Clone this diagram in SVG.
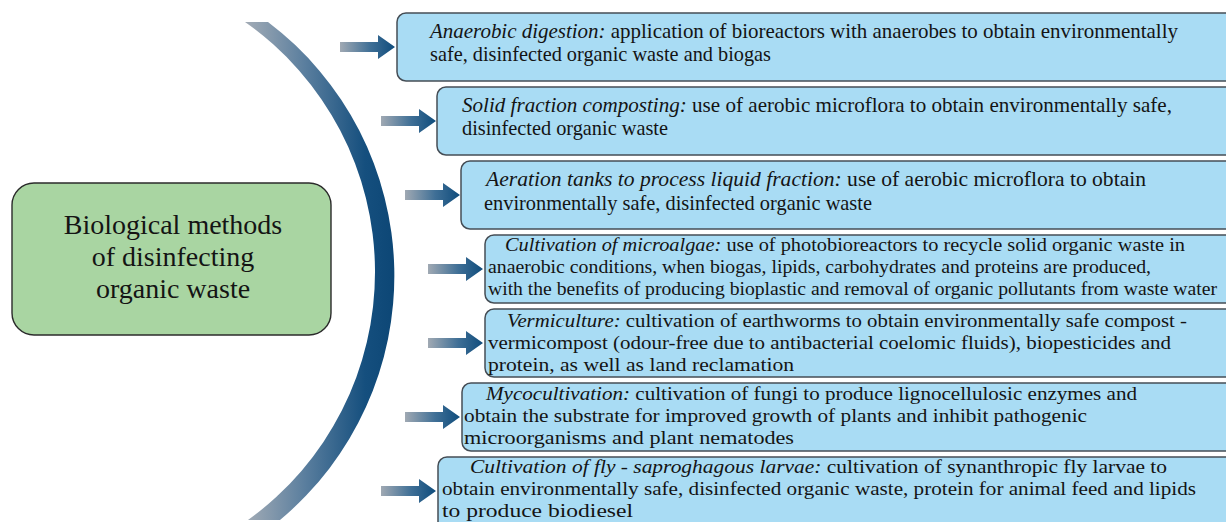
<svg xmlns="http://www.w3.org/2000/svg" width="1226" height="522" viewBox="0 0 1226 522">
<defs>
  <linearGradient id="arcGrad" gradientUnits="userSpaceOnUse" x1="245" y1="0" x2="395" y2="0">
    <stop offset="0" stop-color="#a3acb6"/>
    <stop offset="0.4" stop-color="#5a7e9e"/>
    <stop offset="0.8" stop-color="#154f7e"/>
    <stop offset="1" stop-color="#0c4675"/>
  </linearGradient>
  <linearGradient id="arrGrad" x1="0" y1="0" x2="1" y2="0">
    <stop offset="0" stop-color="#a0a9b3"/>
    <stop offset="0.55" stop-color="#3f6f96"/>
    <stop offset="1" stop-color="#0f4c7c"/>
  </linearGradient>
  <path id="arrow" d="M0,-5 H38 V-12 L55,0 L38,12 V5 H0 Z" fill="url(#arrGrad)"/>
</defs>
<style>
  .box { fill: #a9dcf4; stroke: #454d55; stroke-width: 1.5; }
  .main { fill: #a9d5a2; stroke: #2b2b2b; stroke-width: 1.4; }
  .t { font-family: "Liberation Serif", "Times New Roman", serif; font-size: 21px; fill: #141414; }
  .s { font-size: 19px; }
  .m { font-size: 19.8px; }
  .i { font-style: italic; }
  .mt { font-family: "Liberation Serif", "Times New Roman", serif; font-size: 28px; fill: #141414; text-anchor: middle; }
</style>

<g id="arc">
  <path d="M245,22 L268,22 A318,318 0 0 1 280,520 L248,520 A305.5,305.5 0 0 0 245,22 Z" fill="url(#arcGrad)"/>
</g>

<g id="main-node">
  <rect class="main" x="12" y="183" width="319" height="152" rx="22"/>
  <text class="mt" x="173" y="234">Biological methods</text>
  <text class="mt" x="173" y="266">of disinfecting</text>
  <text class="mt" x="173" y="298">organic waste</text>
</g>

<g id="connectors">
  <use href="#arrow" x="340" y="47"/>
  <use href="#arrow" x="381" y="121"/>
  <use href="#arrow" x="405" y="195"/>
  <use href="#arrow" x="428" y="269"/>
  <use href="#arrow" x="428" y="343"/>
  <use href="#arrow" x="405" y="417"/>
  <use href="#arrow" x="381" y="491"/>
</g>

<g id="node-anaerobic">
  <rect class="box" x="397" y="13" width="840" height="68" rx="9"/>
  <text class="t" x="430" y="38" textLength="748" lengthAdjust="spacingAndGlyphs"><tspan class="i">Anaerobic digestion:</tspan> application of bioreactors with anaerobes to obtain environmentally</text>
  <text class="t" x="430" y="61" textLength="341" lengthAdjust="spacingAndGlyphs">safe, disinfected organic waste and biogas</text>
</g>

<g id="node-composting">
  <rect class="box" x="437" y="87" width="800" height="68" rx="9"/>
  <text class="t" x="462" y="112" textLength="710" lengthAdjust="spacingAndGlyphs"><tspan class="i">Solid fraction composting:</tspan> use of aerobic microflora to obtain environmentally safe,</text>
  <text class="t" x="462" y="135" textLength="206" lengthAdjust="spacingAndGlyphs">disinfected organic waste</text>
</g>

<g id="node-aeration">
  <rect class="box" x="461" y="161" width="776" height="68" rx="9"/>
  <text class="t" x="486" y="186" textLength="660" lengthAdjust="spacingAndGlyphs"><tspan class="i">Aeration tanks to process liquid fraction:</tspan> use of aerobic microflora to obtain</text>
  <text class="t" x="484" y="210" textLength="388" lengthAdjust="spacingAndGlyphs">environmentally safe, disinfected organic waste</text>
</g>

<g id="node-microalgae">
  <rect class="box" x="485" y="235" width="752" height="68" rx="9"/>
  <text class="t s" x="505" y="251" textLength="680" lengthAdjust="spacingAndGlyphs"><tspan class="i">Cultivation of microalgae:</tspan> use of photobioreactors to recycle solid organic waste in</text>
  <text class="t s" x="488" y="273" textLength="663" lengthAdjust="spacingAndGlyphs">anaerobic conditions, when biogas, lipids, carbohydrates and proteins are produced,</text>
  <text class="t s" x="488" y="295" textLength="729" lengthAdjust="spacingAndGlyphs">with the benefits of producing bioplastic and removal of organic pollutants from waste water</text>
</g>

<g id="node-vermiculture">
  <rect class="box" x="485" y="309" width="752" height="68" rx="9"/>
  <text class="t m" x="507" y="327" textLength="680" lengthAdjust="spacingAndGlyphs"><tspan class="i">Vermiculture:</tspan> cultivation of earthworms to obtain environmentally safe compost -</text>
  <text class="t m" x="488" y="349" textLength="683" lengthAdjust="spacingAndGlyphs">vermicompost (odour-free due to antibacterial coelomic fluids), biopesticides and</text>
  <text class="t m" x="488" y="371" textLength="306" lengthAdjust="spacingAndGlyphs">protein, as well as land reclamation</text>
</g>

<g id="node-mycocultivation">
  <rect class="box" x="462" y="383" width="775" height="68" rx="9"/>
  <text class="t m" x="486" y="400" textLength="651" lengthAdjust="spacingAndGlyphs"><tspan class="i">Mycocultivation:</tspan> cultivation of fungi to produce lignocellulosic enzymes and</text>
  <text class="t m" x="464" y="422" textLength="623" lengthAdjust="spacingAndGlyphs">obtain the substrate for improved growth of plants and inhibit pathogenic</text>
  <text class="t m" x="464" y="444" textLength="330" lengthAdjust="spacingAndGlyphs">microorganisms and plant nematodes</text>
</g>

<g id="node-fly-larvae">
  <rect class="box" x="438" y="457" width="799" height="75" rx="9"/>
  <text class="t m" x="470" y="473" textLength="697" lengthAdjust="spacingAndGlyphs"><tspan class="i">Cultivation of fly - saproghagous larvae:</tspan> cultivation of synanthropic fly larvae to</text>
  <text class="t m" x="442" y="495" textLength="754" lengthAdjust="spacingAndGlyphs">obtain environmentally safe, disinfected organic waste, protein for animal feed and lipids</text>
  <text class="t m" x="442" y="517" textLength="191" lengthAdjust="spacingAndGlyphs">to produce biodiesel</text>
</g>
</svg>
